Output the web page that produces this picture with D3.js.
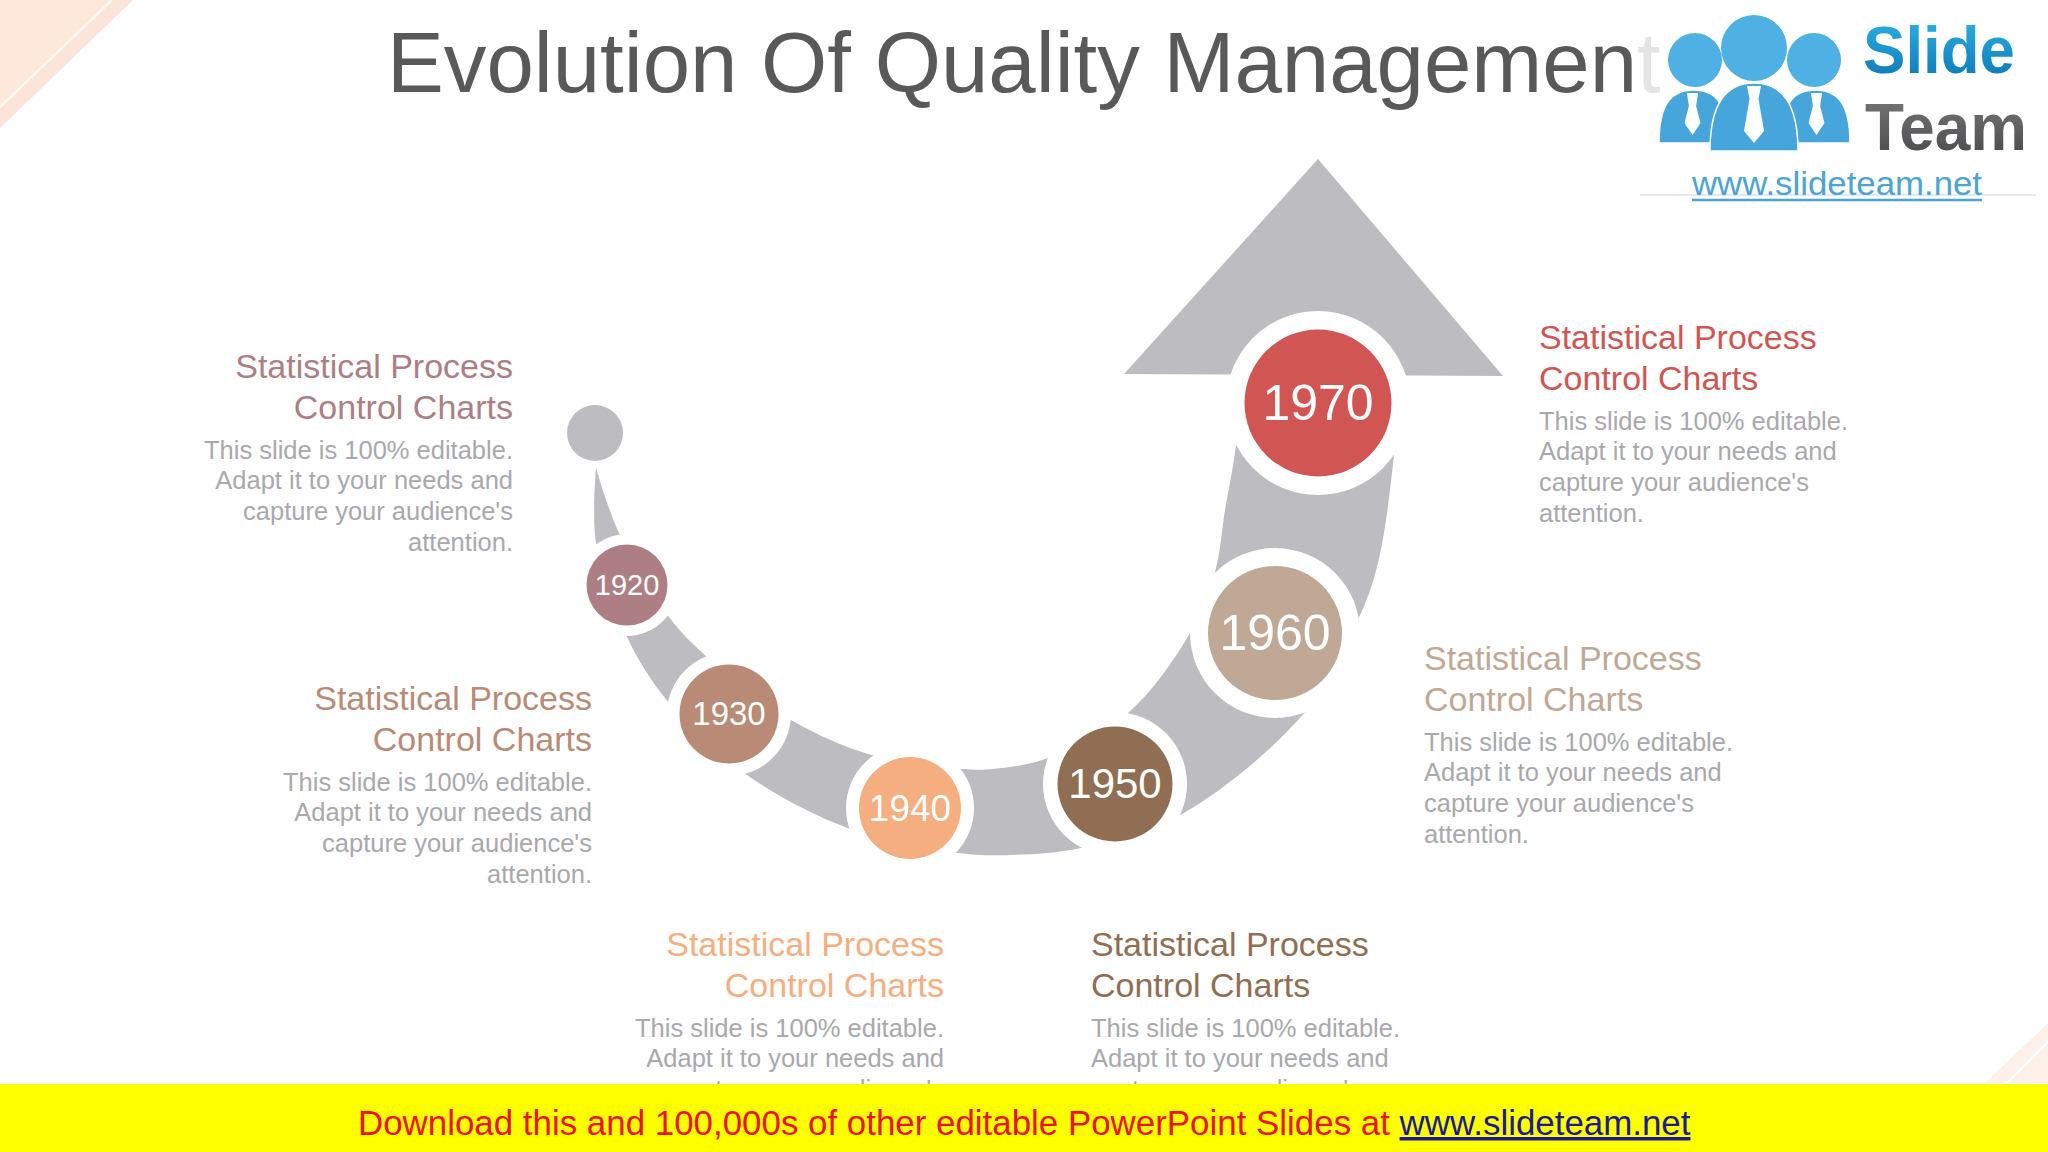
<!DOCTYPE html>
<html>
<head>
<meta charset="utf-8">
<title>Evolution Of Quality Management</title>
<script src="https://cdn.jsdelivr.net/npm/d3@7"></script>
<style>
  html, body { margin: 0; padding: 0; background: #fff; }
  svg { display: block; }
  text { font-family: "Liberation Sans", Arial, sans-serif; }
</style>
</head>
<body>
<svg id="slide" width="2048" height="1152" viewBox="0 0 2048 1152"></svg>
<script>
const chartTitle = 'Evolution Of Quality Management'
const years = [1920, 1930, 1940, 1950, 1960, 1970]
const headingLines = ['Statistical Process', 'Control Charts']
const bodyLines = ['This slide is 100% editable.', 'Adapt it to your needs and', "capture your audience's", 'attention.']
const footerText = 'Download this and 100,000s of other editable PowerPoint Slides at '
const footerLink = 'www.slideteam.net'

// milestone layout, one scale per attribute
const yearX = d3.scaleOrdinal(years, [627, 729, 910, 1115, 1275, 1318])
const yearY = d3.scaleOrdinal(years, [585, 714, 808, 784, 633, 403])
const yearR = d3.scaleOrdinal(years, [40.5, 49.5, 51, 57.5, 67, 73.5])
const haloR = d3.scaleOrdinal(years, [51, 62, 64, 72, 85, 92])
const labelSize = d3.scaleOrdinal(years, [29, 33, 37, 42, 50, 50])
const yearColor = d3.scaleOrdinal(years, ['#ad7f85', '#b98a76', '#f4ae80', '#8f6e54', '#bfa896', '#d15552'])

// caption layout
const captionX = d3.scaleOrdinal(years, [513, 592, 944, 1091, 1424, 1539])
const captionY = d3.scaleOrdinal(years, [378, 710, 956, 956, 670, 349])
const captionAnchor = d3.scaleOrdinal(years, ['end', 'end', 'end', 'start', 'start', 'start'])
const barTop = 1084
const bodyTop = 80.5
const bodyStep = 30.8

// the tapered band: stops run from the thin start to the arrow head
const bandStops = d3.range(15)
const outerX = d3.scaleOrdinal(bandStops, [596, 596, 626, 669, 744, 850, 958, 1011, 1081, 1182, 1306, 1358, 1378, 1394, 1400])
const outerY = d3.scaleOrdinal(bandStops, [468, 543, 635, 703, 773, 829, 853, 855, 848, 814, 711, 620, 563, 455, 375])
const innerX = d3.scaleOrdinal(bandStops, [596, 619, 669, 706, 791, 875, 962, 993, 1048, 1128, 1190, 1215, 1225, 1236, 1240])
const innerY = d3.scaleOrdinal(bandStops, [468, 533, 617, 656, 720, 756, 769, 769, 758, 713, 633, 572, 510, 445, 375])

const svg = d3.select('#slide')
svg.append('rect').attr('width', 2048).attr('height', 1152).attr('fill', '#fff')

// corner stripes
const corners = [
  { d: 'M0,0H133L0,128Z', fill: '#fbe4da' },
  { d: 'M0,0H112L0,107Z', fill: '#fde8da' },
  { d: 'M2048,1023L1985,1083H2048Z', fill: '#fdf0e9' }
]
svg.selectAll('path.corner').data(corners).join('path')
  .attr('class', 'corner')
  .attr('d', d => d.d)
  .attr('fill', d => d.fill)
svg.append('line').attr('x1', 112).attr('y1', 0).attr('x2', 0).attr('y2', 107)
  .attr('stroke', '#fff8f2').attr('stroke-width', 2.5)
svg.append('line').attr('x1', 2048).attr('y1', 1042).attr('x2', 2007).attr('y2', 1083)
  .attr('stroke', '#fff').attr('stroke-width', 2.5)

svg.append('text')
  .attr('x', 387).attr('y', 92)
  .attr('font-size', 85.2)
  .attr('fill', '#595959')
  .text(chartTitle)

// logo sits on a washed white panel that fades the end of the title
const logo = svg.append('g')
logo.append('rect').attr('x', 1638).attr('y', 0).attr('width', 400).attr('height', 195)
  .attr('fill', '#fff').attr('fill-opacity', 0.84)
logo.append('line').attr('x1', 1640).attr('y1', 195).attr('x2', 2036).attr('y2', 195)
  .attr('stroke', '#cfd3d6').attr('stroke-width', 1)

const defs = svg.append('defs')
const slideGrad = defs.append('linearGradient').attr('id', 'slideGrad')
  .attr('x1', 0).attr('y1', 0).attr('x2', 0).attr('y2', 1)
slideGrad.append('stop').attr('offset', '0%').attr('stop-color', '#2fb4e6')
slideGrad.append('stop').attr('offset', '100%').attr('stop-color', '#0b74b4')
const teamGrad = defs.append('linearGradient').attr('id', 'teamGrad')
  .attr('x1', 0).attr('y1', 0).attr('x2', 0).attr('y2', 1)
teamGrad.append('stop').attr('offset', '0%').attr('stop-color', '#7a7a7c')
teamGrad.append('stop').attr('offset', '100%').attr('stop-color', '#47474a')

const people = [
  { cx: 1695, cy: 60, r: 27, left: 1659, right: 1726, top: 90, bottom: 143, tie: 8 },
  { cx: 1814, cy: 60, r: 27, left: 1783, right: 1850, top: 90, bottom: 143, tie: 8 },
  { cx: 1754, cy: 48, r: 33, left: 1710, right: 1798, top: 83, bottom: 151, tie: 10 }
]
const person = logo.selectAll('g.person').data(people).join('g').attr('class', 'person')
person.append('circle')
  .attr('cx', d => d.cx).attr('cy', d => d.cy).attr('r', d => d.r)
  .attr('fill', '#4fb0e3')
person.append('path')
  .attr('d', d => `M${d.left},${d.bottom}C${d.left},${d.top + 12} ${d.cx - 22},${d.top} ${(d.left + d.right) / 2},${d.top}` +
    `C${d.cx + 22},${d.top} ${d.right},${d.top + 12} ${d.right},${d.bottom}Z`)
  .attr('fill', '#46a6dc')
  .attr('stroke', '#fff').attr('stroke-width', 1.5)
person.append('path')
  .attr('d', d => {
    const c = (d.left + d.right) / 2
    return `M${c - d.tie * 0.7},${d.top + 3}H${c + d.tie * 0.7}L${c + d.tie * 0.45},${d.top + 16}L${c + d.tie},${d.bottom - 20}` +
      `L${c},${d.bottom - 8}L${c - d.tie},${d.bottom - 20}L${c - d.tie * 0.45},${d.top + 16}Z`
  })
  .attr('fill', '#fff')

logo.append('text')
  .attr('x', 1863).attr('y', 73)
  .attr('font-size', 66).attr('font-weight', 700)
  .attr('textLength', 152).attr('lengthAdjust', 'spacingAndGlyphs')
  .attr('fill', 'url(#slideGrad)')
  .text('Slide')
logo.append('text')
  .attr('x', 1865).attr('y', 150)
  .attr('font-size', 66).attr('font-weight', 700)
  .attr('textLength', 162).attr('lengthAdjust', 'spacingAndGlyphs')
  .attr('fill', 'url(#teamGrad)')
  .text('Team')
logo.append('text')
  .attr('x', 1692).attr('y', 195)
  .attr('font-size', 34)
  .attr('textLength', 290).attr('lengthAdjust', 'spacingAndGlyphs')
  .attr('fill', '#4ba3d6')
  .text(footerLink)
logo.append('line').attr('x1', 1692).attr('y1', 200).attr('x2', 1982).attr('y2', 200)
  .attr('stroke', '#4ba3d6').attr('stroke-width', 2.5)

// band and arrow head
const band = d3.area()
  .x0(d => outerX(d)).y0(d => outerY(d))
  .x1(d => innerX(d)).y1(d => innerY(d))
  .curve(d3.curveCatmullRom.alpha(0.5))
svg.append('path')
  .datum(bandStops)
  .attr('d', band)
  .attr('fill', '#bdbcc0')

const headStops = [0, 1, 2]
const headX = d3.scaleOrdinal(headStops, [1124, 1318, 1503])
const headY = d3.scaleOrdinal(headStops, [374, 159, 376])
svg.append('path')
  .datum(headStops)
  .attr('d', d3.line().x(d => headX(d)).y(d => headY(d)))
  .attr('fill', '#bdbcc0')

svg.append('circle')
  .attr('cx', 595).attr('cy', 433).attr('r', 28)
  .attr('fill', '#bdbcc0')

const milestone = svg.selectAll('g.milestone').data(years).join('g')
  .attr('class', 'milestone')
  .attr('transform', d => `translate(${yearX(d)},${yearY(d)})`)
milestone.append('circle')
  .attr('r', d => haloR(d))
  .attr('fill', '#fff')
milestone.append('circle')
  .attr('r', d => yearR(d))
  .attr('fill', d => yearColor(d))
milestone.append('text')
  .attr('text-anchor', 'middle')
  .attr('dy', '0.34em')
  .attr('font-size', d => labelSize(d))
  .attr('fill', '#fff')
  .text(d => d)

const caption = svg.selectAll('g.caption').data(years).join('g')
  .attr('class', 'caption')
  .attr('transform', d => `translate(${captionX(d)},${captionY(d)})`)
  .attr('text-anchor', d => captionAnchor(d))
caption.each(function (year) {
  const g = d3.select(this)
  g.selectAll('text.heading').data(headingLines).join('text')
    .attr('class', 'heading')
    .attr('y', (d, i) => i * 41)
    .attr('font-size', 34)
    .attr('fill', yearColor(year))
    .text(d => d)
  // lines that start below the top of the bar never show
  const shown = bodyLines.filter((d, i) => captionY(year) + bodyTop + (i - 1) * bodyStep < barTop)
  g.selectAll('text.body').data(shown).join('text')
    .attr('class', 'body')
    .attr('y', (d, i) => bodyTop + i * bodyStep)
    .attr('font-size', 25.5)
    .attr('fill', '#a9a8ad')
    .text(d => d)
})

// download bar goes over the captions and cuts them off
svg.append('rect')
  .attr('x', 0).attr('y', barTop).attr('width', 2048).attr('height', 1152 - barTop)
  .attr('fill', '#ffff00')
const footer = svg.append('text')
  .attr('x', 358).attr('y', 1135)
  .attr('font-size', 34.9)
  .attr('fill', '#ee1111')
footer.append('tspan').text(footerText)
footer.append('tspan')
  .attr('fill', '#1a1a96')
  .attr('text-decoration', 'underline')
  .text(footerLink)
</script>
</body>
</html>
